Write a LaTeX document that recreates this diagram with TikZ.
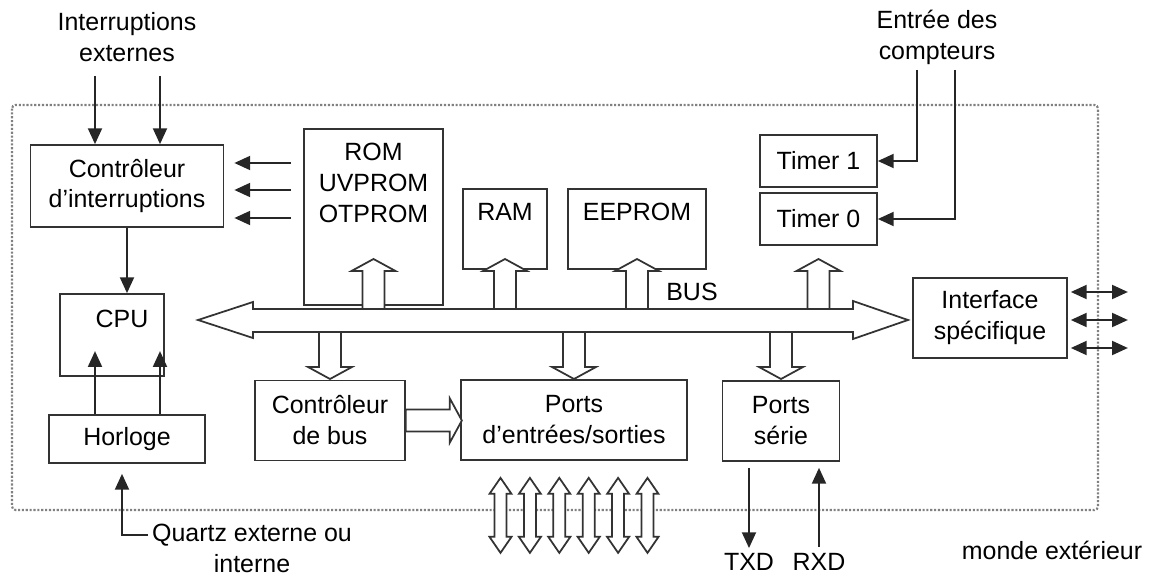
\documentclass[tikz,border=0pt]{standalone}
\usepackage{fontspec}
\setmainfont{Liberation Sans}
\usetikzlibrary{arrows.meta,positioning,calc}

\newcommand{\lbl}{\fontsize{14.2}{17.6}\selectfont}

\begin{document}
\begin{tikzpicture}[x=0.02cm, y=-0.02cm,
  blk/.style={draw=black!80, line width=1pt, inner sep=0pt, align=center, font=\lbl},
  txt/.style={inner sep=0pt, align=center, font=\lbl},
  arr/.style={draw=black!85, line width=1pt, -{Triangle[length=9pt,width=8pt]}},
  darr/.style={draw=black!85, line width=1pt, {Triangle[length=9pt,width=8pt]}-{Triangle[length=9pt,width=8pt]}},
  fat/.style={draw=black!80, line width=1pt, fill=white, line join=miter},
  pics/fatarrow/.style={code={
    \draw[fat] (0,-11) -- ({#1-12},-11) -- ({#1-12},-22) -- (#1,0) -- ({#1-12},22) -- ({#1-12},11) -- (0,11) -- cycle;
  }},
  pics/iolink/.style={code={
    \draw[fat] (-37.5,0) -- (-21.5,-11) -- (-21.5,-6) -- (21.5,-6) -- (21.5,-11) -- (37.5,0)
      -- (21.5,11) -- (21.5,6) -- (-21.5,6) -- (-21.5,11) -- cycle;
  }}
]
  \useasboundingbox (0,0) rectangle (1153,577);

  %% outer limit of the chip
  \draw[gray, densely dotted, line width=1.2pt, rounded corners=2pt] (12,105) rectangle (1098,510);

  %% left side
  \node[txt] (intext) at (127,37) {Interruptions\\externes};
  \node[blk, minimum width=3.86cm, minimum height=1.64cm] (ctrlint) at (127,186) {Contrôleur\\d’interruptions};
  \node[blk, minimum width=2.08cm, minimum height=1.64cm,
        label={[txt, anchor=north, xshift=0.2cm, yshift=-0.34cm]north:CPU}] (cpu) at (112,335) {};
  \node[blk, minimum width=3.12cm, minimum height=0.96cm] (horloge) at (127,439) {Horloge};
  \node[txt] (quartz) at (252,548) {Quartz externe ou\\interne};

  %% memories
  \node[blk, minimum width=2.78cm, minimum height=3.52cm,
        label={[txt, anchor=north, yshift=-0.3cm]north:ROM\\UVPROM\\OTPROM}] (rom) at (373.5,217) {};
  \node[blk, minimum width=1.68cm, minimum height=1.6cm,
        label={[txt, anchor=north, yshift=-0.3cm]north:RAM}] (ram) at (505,229) {};
  \node[blk, minimum width=2.76cm, minimum height=1.6cm,
        label={[txt, anchor=north, yshift=-0.3cm]north:EEPROM}] (eeprom) at (637,229) {};

  %% timers
  \node[txt] (cnttext) at (937,37) {Entrée des\\compteurs};
  \node[blk, minimum width=2.34cm, minimum height=1.04cm] (timer1) at (818.5,161) {Timer 1};
  \node[blk, minimum width=2.34cm, minimum height=1.04cm] (timer0) at (818.5,219) {Timer 0};

  %% interface and ports
  \node[blk, minimum width=3.08cm, minimum height=1.6cm] (iface) at (990,318) {Interface\\spécifique};
  \node[blk, minimum width=3.0cm, minimum height=1.6cm] (cbus) at (330,420.5) {Contrôleur\\de bus};
  \node[blk, minimum width=4.52cm, minimum height=1.6cm] (ports) at (574,420) {Ports\\d’entrées/sorties};
  \node[blk, minimum width=2.34cm, minimum height=1.6cm] (serie) at (781,421) {Ports\\série};
  \node[txt] (txd) at (749,562) {TXD};
  \node[txt] (rxd) at (819,562) {RXD};
  \node[txt] (monde) at (1052,550) {monde extérieur};

  %% bus
  \draw[fat] (198,320) -- (253,302) -- (253,309) -- (853,309) -- (853,301) -- (908,320)
    -- (853,339) -- (853,332) -- (253,332) -- (253,338) -- cycle;
  \node[txt] (bus) at (692,292) {BUS};
  \coordinate (bustop) at (0,309);
  \coordinate (busbot) at (0,332);

  \pic[rotate=90] at (rom.south |- bustop) {fatarrow=50};
  \pic[rotate=90] at (ram.south |- bustop) {fatarrow=50};
  \pic[rotate=90] at (eeprom.south |- bustop) {fatarrow=50};
  \pic[rotate=90] at (timer0.south |- bustop) {fatarrow=50};
  \pic[rotate=-90] at (cbus.north |- busbot) {fatarrow=47};
  \pic[rotate=-90] at (ports.north |- busbot) {fatarrow=47};
  \pic[rotate=-90] at (serie.north |- busbot) {fatarrow=47};
  \pic at (cbus.east) {fatarrow=56};

  \foreach \k in {-2.5,-1.5,...,2.5}
    \pic[rotate=90] at ($(ports.south)+(\k*29.4,54.5)$) {iolink};

  %% thin connections
  \coordinate (ie1) at (95,76);
  \coordinate (ie2) at (160,76);
  \draw[arr] (ie1) -- (ie1 |- ctrlint.north);
  \draw[arr] (ie2) -- (ie2 |- ctrlint.north);
  \foreach \dy [count=\i] in {-23,4,32} {
    \coordinate (in\i) at ($(ctrlint.east)+(0,\dy)$);
    \draw[arr, shorten <=0.24cm, shorten >=0.2cm] (in\i -| rom.west) -- (in\i);
  }
  \draw[arr] (ctrlint.south) -- (ctrlint.south |- cpu.north);
  \draw[arr] ([xshift=-0.64cm]horloge.north) -- ++(0,-63);
  \draw[arr] ([xshift=0.66cm]horloge.north) -- ++(0,-63);
  \coordinate (qz) at (148,535);
  \draw[arr, shorten >=0.2cm] (qz) -| ([xshift=-0.1cm]horloge.south);

  \coordinate (ec1) at (917,70);
  \coordinate (ec0) at (955,70);
  \draw[arr] (ec1) |- (timer1.east);
  \draw[arr] (ec0) |- (timer0.east);

  \foreach \dy [count=\i] in {-26,2,30} {
    \coordinate (ifa\i) at ($(iface.east)+(0,\dy)$);
    \coordinate (out\i) at ($(iface.east)+(60,\dy)$);
    \draw[darr, shorten <=0.06cm] (ifa\i) -- (out\i);
  }

  \draw[arr, shorten <=0.12cm, shorten >=0.1cm] (txd.north |- serie.south) -- (txd.north);
  \draw[arr, shorten <=0.12cm, shorten >=0.12cm] (rxd.north) -- (rxd.north |- serie.south);
\end{tikzpicture}
\end{document}
